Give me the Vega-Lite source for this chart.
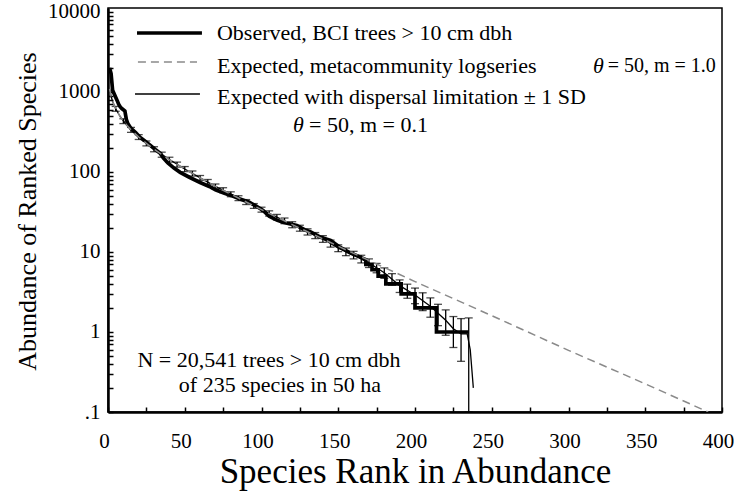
{
  "$schema": "https://vega.github.io/schema/vega-lite/v6.json",
  "width": 614,
  "height": 404,
  "autosize": "none",
  "padding": {"left": 108, "top": 8, "right": 12, "bottom": 86},
  "background": "white",
  "config": {
    "view": {"stroke": "black", "strokeWidth": 1.5},
    "font": "Liberation Serif",
    "axis": {
      "grid": false,
      "domainColor": "black",
      "domainWidth": 2.5,
      "tickColor": "black",
      "tickWidth": 1.5,
      "labelColor": "black",
      "labelFont": "Liberation Serif",
      "labelFontSize": 21,
      "labelFlush": false,
      "labelOverlap": false,
      "labelBound": false,
      "titleFont": "Liberation Serif",
      "titleFontWeight": "normal",
      "titleColor": "black"
    }
  },
  "datasets": {
    "obs": [
      {"rank": 1, "value": 2000}, {"rank": 2, "value": 1700}, {"rank": 3, "value": 1050}, {"rank": 4, "value": 950},
      {"rank": 5, "value": 860}, {"rank": 6, "value": 780}, {"rank": 7, "value": 700}, {"rank": 8, "value": 650},
      {"rank": 9, "value": 620}, {"rank": 10, "value": 600}, {"rank": 11, "value": 580}, {"rank": 12, "value": 450},
      {"rank": 13, "value": 400}, {"rank": 15, "value": 350}, {"rank": 18, "value": 310}, {"rank": 21, "value": 270},
      {"rank": 24, "value": 245}, {"rank": 27, "value": 220}, {"rank": 31, "value": 190}, {"rank": 34, "value": 172},
      {"rank": 36, "value": 150}, {"rank": 39, "value": 130}, {"rank": 43, "value": 112}, {"rank": 47, "value": 99},
      {"rank": 53, "value": 86}, {"rank": 60, "value": 74}, {"rank": 66, "value": 66}, {"rank": 70, "value": 60},
      {"rank": 75, "value": 55}, {"rank": 80, "value": 51}, {"rank": 86, "value": 46}, {"rank": 92, "value": 42},
      {"rank": 97, "value": 37}, {"rank": 101, "value": 33}, {"rank": 105, "value": 28}, {"rank": 110, "value": 25},
      {"rank": 114, "value": 23.5}, {"rank": 123, "value": 21.5}, {"rank": 128, "value": 19}, {"rank": 132, "value": 17.8},
      {"rank": 138, "value": 15.4}, {"rank": 145, "value": 14}, {"rank": 151, "value": 11.5}, {"rank": 158, "value": 9.7},
      {"rank": 164, "value": 8.7}, {"rank": 168, "value": 8}, {"rank": 168, "value": 7}, {"rank": 172, "value": 7},
      {"rank": 172, "value": 6}, {"rank": 176, "value": 6}, {"rank": 176, "value": 5}, {"rank": 181, "value": 5},
      {"rank": 181, "value": 4}, {"rank": 191, "value": 4}, {"rank": 191, "value": 3}, {"rank": 200, "value": 3},
      {"rank": 200, "value": 2}, {"rank": 214, "value": 2}, {"rank": 214, "value": 1}, {"rank": 235, "value": 1}
    ],
    "meta": [
      {"rank": 1, "value": 1098}, {"rank": 2, "value": 884}, {"rank": 3, "value": 762}, {"rank": 5, "value": 617},
      {"rank": 8, "value": 491}, {"rank": 12, "value": 390}, {"rank": 16, "value": 322}, {"rank": 20, "value": 274},
      {"rank": 25, "value": 228}, {"rank": 30, "value": 193}, {"rank": 40, "value": 143}, {"rank": 50, "value": 109},
      {"rank": 60, "value": 84.5}, {"rank": 70, "value": 66.2}, {"rank": 80, "value": 52.8}, {"rank": 90, "value": 42.2},
      {"rank": 100, "value": 33.9}, {"rank": 120, "value": 22.0}, {"rank": 130, "value": 17.9}, {"rank": 140, "value": 14.6},
      {"rank": 150, "value": 11.8}, {"rank": 160, "value": 9.63}, {"rank": 170, "value": 7.85}, {"rank": 180, "value": 6.4},
      {"rank": 190, "value": 5.23}, {"rank": 200, "value": 4.27}, {"rank": 250, "value": 1.6}, {"rank": 300, "value": 0.59},
      {"rank": 350, "value": 0.225}, {"rank": 391, "value": 0.1}
    ],
    "disp": [
      {"rank": 1, "value": 1098}, {"rank": 2, "value": 884}, {"rank": 3, "value": 762}, {"rank": 5, "value": 617},
      {"rank": 8, "value": 491}, {"rank": 12, "value": 390}, {"rank": 16, "value": 322}, {"rank": 20, "value": 274},
      {"rank": 25, "value": 228}, {"rank": 30, "value": 193}, {"rank": 40, "value": 143}, {"rank": 50, "value": 109},
      {"rank": 60, "value": 84.5}, {"rank": 70, "value": 66.2}, {"rank": 80, "value": 52.8}, {"rank": 90, "value": 42.2},
      {"rank": 100, "value": 33.9}, {"rank": 120, "value": 22.0}, {"rank": 130, "value": 17.9}, {"rank": 140, "value": 14.6},
      {"rank": 150, "value": 11.2}, {"rank": 160, "value": 9.2}, {"rank": 170, "value": 7.3}, {"rank": 180, "value": 5.5},
      {"rank": 190, "value": 3.8}, {"rank": 200, "value": 2.9}, {"rank": 210, "value": 2.1}, {"rank": 220, "value": 1.4},
      {"rank": 225, "value": 1.1}, {"rank": 230, "value": 0.95}, {"rank": 234, "value": 0.95}, {"rank": 236, "value": 0.6},
      {"rank": 238, "value": 0.2}
    ],
    "err": [
      {"rank": 5, "value": 574, "value2": 660}, {"rank": 10, "value": 403, "value2": 463}, {"rank": 15, "value": 313, "value2": 361},
      {"rank": 20, "value": 255, "value2": 293}, {"rank": 25, "value": 212, "value2": 244}, {"rank": 30, "value": 179, "value2": 207},
      {"rank": 35, "value": 153, "value2": 177}, {"rank": 40, "value": 133, "value2": 153}, {"rank": 45, "value": 115, "value2": 133},
      {"rank": 50, "value": 101, "value2": 117}, {"rank": 55, "value": 89, "value2": 103}, {"rank": 60, "value": 78.6, "value2": 90.4},
      {"rank": 65, "value": 70, "value2": 80.6}, {"rank": 70, "value": 61.6, "value2": 70.8}, {"rank": 75, "value": 55.2, "value2": 63.6},
      {"rank": 80, "value": 49.1, "value2": 56.5}, {"rank": 85, "value": 43.9, "value2": 50.5}, {"rank": 90, "value": 39.2, "value2": 45.2},
      {"rank": 95, "value": 35.1, "value2": 40.3}, {"rank": 100, "value": 31.5, "value2": 36.3}, {"rank": 105, "value": 28.1, "value2": 32.7},
      {"rank": 110, "value": 25.1, "value2": 29.5}, {"rank": 115, "value": 22.6, "value2": 26.6}, {"rank": 120, "value": 20.1, "value2": 23.9},
      {"rank": 125, "value": 18.2, "value2": 21.6}, {"rank": 130, "value": 16.3, "value2": 19.5}, {"rank": 135, "value": 14.7, "value2": 17.5},
      {"rank": 140, "value": 13.2, "value2": 16.0}, {"rank": 145, "value": 11.5, "value2": 14.1}, {"rank": 150, "value": 10.1, "value2": 12.3},
      {"rank": 155, "value": 9.0, "value2": 11.2}, {"rank": 160, "value": 8.2, "value2": 10.2}, {"rank": 165, "value": 7.3, "value2": 9.1},
      {"rank": 170, "value": 6.4, "value2": 8.2}, {"rank": 175, "value": 5.5, "value2": 7.2}, {"rank": 180, "value": 4.68, "value2": 6.33},
      {"rank": 185, "value": 3.84, "value2": 5.36}, {"rank": 190, "value": 3.12, "value2": 4.48}, {"rank": 195, "value": 2.64, "value2": 3.96},
      {"rank": 200, "value": 2.26, "value2": 3.54}, {"rank": 205, "value": 1.85, "value2": 3.09}, {"rank": 210, "value": 1.53, "value2": 2.67},
      {"rank": 215, "value": 1.2, "value2": 2.22}, {"rank": 220, "value": 0.91, "value2": 1.89}, {"rank": 225, "value": 0.64, "value2": 1.56},
      {"rank": 230, "value": 0.43, "value2": 1.47}, {"rank": 235, "value": 0.1, "value2": 1.5}
    ]
  },
  "encoding": {
    "x": {
      "field": "rank",
      "type": "quantitative",
      "scale": {"domain": [0, 400], "nice": false, "zero": false},
      "axis": {
        "title": "Species Rank in Abundance",
        "titleFontSize": 35,
        "titleBaseline": "alphabetic",
        "titleX": 307,
        "titleY": 70,
        "values": [0, 25, 50, 75, 100, 125, 150, 175, 200, 225, 250, 275, 300, 325, 350, 375, 400],
        "labelExpr": "datum.value % 50 == 0 ? datum.value : ''",
        "tickSize": -5,
        "labelPadding": 23,
        "labelOffset": -4
      }
    },
    "y": {
      "field": "value",
      "type": "quantitative",
      "scale": {"type": "log", "domain": [0.1, 11220], "nice": false},
      "axis": {
        "title": "Abundance of Ranked Species",
        "titleFontSize": 26,
        "titleBaseline": "alphabetic",
        "titleAngle": -90,
        "titleX": -73,
        "titleY": 203,
        "values": [0.1, 0.2, 0.3, 0.4, 0.5, 0.6, 0.7, 0.8, 0.9, 1, 2, 3, 4, 5, 6, 7, 8, 9, 10, 20, 30, 40, 50, 60, 70, 80, 90, 100, 200, 300, 400, 500, 600, 700, 800, 900, 1000, 2000, 3000, 4000, 5000, 6000, 7000, 8000, 9000, 10000],
        "labelExpr": "datum.value == 0.1 ? '.1' : (datum.value == 1 || datum.value == 10 || datum.value == 100 || datum.value == 1000 || datum.value == 10000) ? format(datum.value, 'd') : ''",
        "tickSize": -5,
        "labelPadding": 13
      }
    }
  },
  "layer": [
    {
      "data": {"name": "disp"},
      "mark": {"type": "line", "color": "black", "strokeWidth": 1.3, "clip": true}
    },
    {
      "data": {"name": "err"},
      "mark": {"type": "errorbar", "clip": true, "ticks": {"size": 8, "color": "black", "thickness": 1.3}, "rule": {"color": "black", "strokeWidth": 1.3}},
      "encoding": {"y2": {"field": "value2"}}
    },
    {
      "data": {"name": "obs"},
      "mark": {"type": "line", "color": "black", "strokeWidth": 3.7, "strokeJoin": "miter", "clip": true},
      "encoding": {"order": {"value": null}}
    },
    {
      "data": {"name": "meta"},
      "mark": {"type": "line", "color": "#8a8a8a", "strokeWidth": 1.5, "strokeDash": [8, 5], "clip": true}
    },
    {
      "data": {"values": [{"rank": 18.9, "rank2": 61.2, "value": 5465}]},
      "mark": {"type": "rule", "color": "black", "strokeWidth": 3.7},
      "encoding": {"x2": {"field": "rank2"}}
    },
    {
      "data": {"values": [{"rank": 19.5, "rank2": 58, "value": 2371}]},
      "mark": {"type": "rule", "color": "#8a8a8a", "strokeWidth": 1.5, "strokeDash": [8, 5]},
      "encoding": {"x2": {"field": "rank2"}}
    },
    {
      "data": {"values": [{"rank": 17.6, "rank2": 59.9, "value": 944}]},
      "mark": {"type": "rule", "color": "black", "strokeWidth": 1.3},
      "encoding": {"x2": {"field": "rank2"}}
    },
    {
      "data": {"values": [
        {"rank": 71, "value": 5465, "label": "Observed, BCI trees > 10 cm dbh"},
        {"rank": 71, "value": 2113, "label": "Expected, metacommunity logseries"},
        {"rank": 71, "value": 866, "label": "Expected with dispersal limitation ± 1 SD"},
        {"rank": 131, "value": 387, "label": "= 50, m = 0.1"}
      ]},
      "mark": {"type": "text", "align": "left", "baseline": "middle", "font": "Liberation Serif", "fontSize": 22, "color": "black"},
      "encoding": {"text": {"field": "label"}}
    },
    {
      "data": {"values": [
        {"rank": 325.5, "value": 2113, "label": "= 50, m = 1.0"}
      ]},
      "mark": {"type": "text", "align": "left", "baseline": "middle", "font": "Liberation Serif", "fontSize": 20, "color": "black"},
      "encoding": {"text": {"field": "label"}}
    },
    {
      "data": {"values": [
        {"rank": 316, "value": 2113, "label": "θ"},
        {"rank": 120.5, "value": 387, "label": "θ"}
      ]},
      "mark": {"type": "text", "align": "left", "baseline": "middle", "font": "Liberation Serif", "fontSize": 22, "fontStyle": "italic", "color": "black"},
      "encoding": {"text": {"field": "label"}}
    },
    {
      "data": {"values": [
        {"rank": 104.9, "value": 0.447, "label": "N = 20,541 trees > 10 cm dbh"},
        {"rank": 112, "value": 0.2176, "label": "of 235 species in 50 ha"}
      ]},
      "mark": {"type": "text", "align": "center", "baseline": "middle", "font": "Liberation Serif", "fontSize": 22, "color": "black"},
      "encoding": {"text": {"field": "label"}}
    }
  ]
}
